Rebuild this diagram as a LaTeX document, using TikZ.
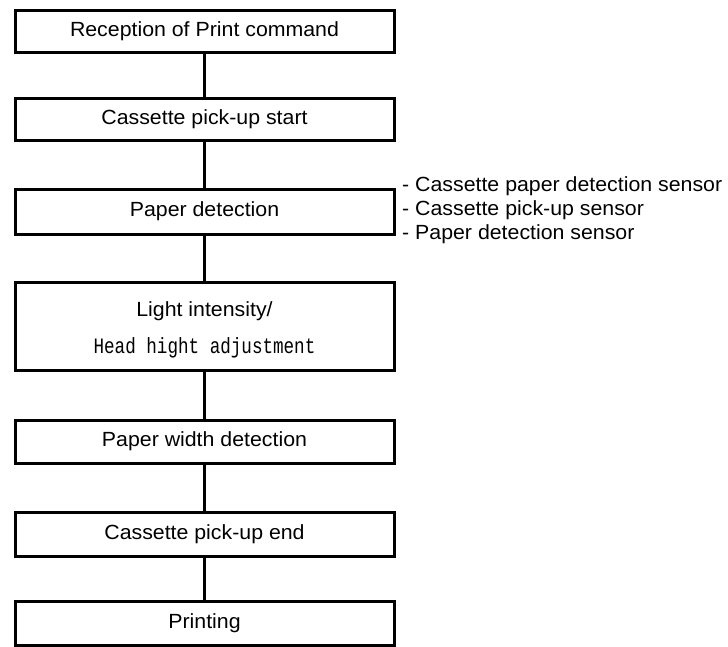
\documentclass[tikz,border=0pt]{standalone}
\usepackage{fontspec}
\usetikzlibrary{positioning}
\newfontfamily\boxfont[FakeStretch=1.04]{Liberation Sans}
\newfontfamily\headfont[FakeStretch=0.8]{Liberation Mono}
\newcommand\tightlines{\lineskiplimit-20pt\relax}

\begin{document}
\begin{tikzpicture}[x=1pt,y=-1pt,
      stepbox/.style={draw,line width=3pt,minimum width=379pt,minimum height=42pt,align=center,
        font=\boxfont\fontsize{20.5}{22}\selectfont},
      link/.style={line width=3pt},
      note/.style={align=left,anchor=west,inner sep=0pt,
        font={\boxfont\fontsize{20.5}{24}\selectfont\tightlines}}]
    \useasboundingbox (0,0) rectangle (728,646);
    \node[stepbox] (recv) at (204.5,31) {Reception of Print command};
    \node[stepbox] (pickstart) at (204.5,119) {Cassette pick-up start};
    \node[stepbox,minimum height=45pt] (paperdet) at (204.5,211.5) {Paper detection};
    \node[stepbox,minimum height=88pt] (light) at (204.5,326)
      {\rule{0pt}{22pt}Light intensity/\\[15pt]{\headfont\fontsize{22}{22}\selectfont Head hight adjustment}};
    \node[stepbox,minimum height=43pt] (widthdet) at (204.5,441.5) {Paper width detection};
    \node[stepbox,minimum height=44pt] (pickend) at (204.5,534) {Cassette pick-up end};
    \node[stepbox,minimum height=44pt] (print) at (204.5,623) {Printing};
    \node[note] (sensors) at (402,210.5)
      {- Cassette paper detection sensor\\- Cassette pick-up sensor\\- Paper detection sensor};
    \draw[link] (recv) -- (pickstart);
    \draw[link] (pickstart) -- (paperdet);
    \draw[link] (paperdet) -- (light);
    \draw[link] (light) -- (widthdet);
    \draw[link] (widthdet) -- (pickend);
    \draw[link] (pickend) -- (print);
  \end{tikzpicture}
\end{document}
